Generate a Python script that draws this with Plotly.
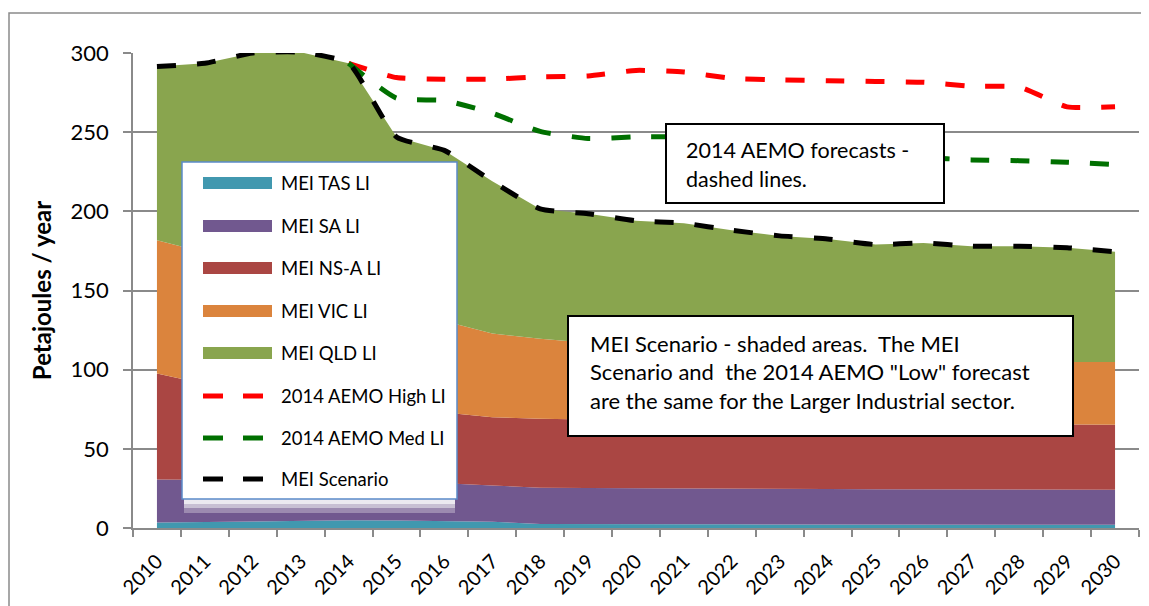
import plotly.graph_objects as go

# ---- data (Petajoules / year) ----
years = [str(y) for y in range(2010, 2031)]

mei_tas_li = [3.4, 3.8, 4.3, 4.7, 4.9, 4.7, 4.4, 3.9, 2.6, 2.4, 2.3,
              2.3, 2.3, 2.2, 2.2, 2.2, 2.1, 2.1, 2.1, 2.0, 2.0]
mei_sa_li = [27.3, 26.7, 26.0, 25.3, 24.7, 24.3, 23.9, 23.0, 22.9, 22.8, 22.7,
             22.6, 22.5, 22.5, 22.4, 22.3, 22.4, 22.3, 22.3, 22.3, 22.2]
mei_nsa_li = [66.9, 60.5, 55.7, 52.0, 48.4, 46.0, 44.7, 43.1, 43.5, 43.3, 43.0,
              42.7, 42.5, 42.3, 42.1, 41.9, 41.6, 41.5, 41.2, 41.1, 41.0]
mei_vic_li = [84.2, 83.0, 79.0, 74.0, 69.0, 63.5, 57.5, 52.8, 50.5, 48.5, 47.0,
              45.4, 44.2, 43.0, 41.8, 40.6, 39.9, 39.6, 39.4, 39.5, 39.6]
mei_qld_li = [109.7, 119.5, 135.0, 144.5, 146.5, 108.5, 108.0, 96.2, 82.0, 81.5, 79.0,
              79.5, 76.5, 74.5, 74.0, 72.0, 74.0, 72.5, 73.0, 72.1, 69.7]

aemo_high_li = [None, None, None, None, 293.5, 284.5, 283.5, 283.5, 285.0, 285.5, 289.0,
                288.0, 284.0, 283.0, 282.5, 282.0, 281.5, 279.0, 278.5, 266.0, 266.0]
aemo_med_li = [None, None, None, None, 293.5, 271.5, 270.0, 262.0, 250.5, 246.0, 247.0,
               247.0, 244.0, 241.0, 238.5, 236.0, 234.0, 232.5, 232.0, 231.0, 229.5]
mei_scenario = [291.5, 293.5, 300.0, 300.5, 293.5, 247.0, 238.5, 219.0, 201.5, 198.5, 194.0,
                192.5, 188.0, 184.5, 182.5, 179.0, 180.0, 178.0, 178.0, 177.0, 174.5]

area_names = ["MEI TAS LI", "MEI SA LI", "MEI NS-A LI", "MEI VIC LI", "MEI QLD LI"]
area_values = [mei_tas_li, mei_sa_li, mei_nsa_li, mei_vic_li, mei_qld_li]
area_colors = ["#4198AF", "#71588F", "#AA4643", "#DB843D", "#89A54E"]

line_names = ["2014 AEMO High LI", "2014 AEMO Med LI", "MEI Scenario"]
line_values = [aemo_high_li, aemo_med_li, mei_scenario]
line_colors = ["#FF0000", "#007000", "#000000"]

FONT = "Lato"

# the page body adds an 8px offset; positions below are given as screen pixels
OFF = 8
W, H = 1149, 606
L, R, T, B = 125, 1131, 45, 520


def px_x(x):
    return (x - OFF - L) / (R - L)


def px_y(y):
    return (B - (y - OFF)) / (B - T)


fig = go.Figure()

for name, vals, col in zip(area_names, area_values, area_colors):
    fig.add_trace(go.Scatter(x=years, y=vals, name=name, stackgroup="mei",
                             mode="lines", line=dict(width=0, color=col),
                             fillcolor=col, showlegend=False))

for name, vals, col in zip(line_names, line_values, line_colors):
    fig.add_trace(go.Scatter(x=years, y=vals, name=name, mode="lines",
                             line=dict(color=col, width=5, dash="19px,21px",
                                       shape="spline", smoothing=0.5),
                             showlegend=False))

shapes = []
annotations = []

# outer chart frame
shapes.append(dict(type="rect", xref="paper", yref="paper", layer="below",
                   x0=px_x(9), x1=px_x(1165), y0=px_y(13), y1=px_y(625),
                   line=dict(color="#8A8A8A", width=1.5)))

# legend box (drawn by hand so the swatches match the original), soft glow underneath
for pad, alpha in [(14, 0.3), (9, 0.45), (5, 0.65)]:
    shapes.append(dict(type="rect", xref="paper", yref="paper",
                       x0=px_x(184), x1=px_x(455),
                       y0=px_y(495), y1=px_y(499 + pad),
                       fillcolor="rgba(255,255,255,%s)" % alpha, line=dict(width=0)))
shapes.append(dict(type="rect", xref="paper", yref="paper",
                   x0=px_x(182), x1=px_x(457), y0=px_y(162), y1=px_y(499),
                   fillcolor="white", line=dict(color="#5B8BC9", width=1.5)))

item_y = [183, 226, 268, 311, 353, 396, 438, 479]
for i, (name, col) in enumerate(zip(area_names, area_colors)):
    yy = item_y[i]
    shapes.append(dict(type="rect", xref="paper", yref="paper",
                       x0=px_x(203), x1=px_x(272), y0=px_y(yy - 6), y1=px_y(yy + 6),
                       fillcolor=col, line=dict(width=0)))
    annotations.append(dict(text=name, x=px_x(279), y=px_y(yy), xref="paper", yref="paper",
                            xanchor="left", yanchor="middle", showarrow=False,
                            font=dict(family=FONT, size=18.5, color="black")))
for j, (name, col) in enumerate(zip(line_names, line_colors)):
    yy = item_y[5 + j]
    for x0, x1 in [(203, 223), (243, 263)]:
        shapes.append(dict(type="line", xref="paper", yref="paper",
                           x0=px_x(x0), x1=px_x(x1), y0=px_y(yy), y1=px_y(yy),
                           line=dict(color=col, width=5)))
    annotations.append(dict(text=name, x=px_x(279), y=px_y(yy), xref="paper", yref="paper",
                            xanchor="left", yanchor="middle", showarrow=False,
                            font=dict(family=FONT, size=18.5, color="black")))

# text boxes
shapes.append(dict(type="rect", xref="paper", yref="paper",
                   x0=px_x(666), x1=px_x(944), y0=px_y(124), y1=px_y(203),
                   fillcolor="white", line=dict(color="black", width=2)))
box1_lines = ["2014 AEMO forecasts -", "dashed lines."]
for k, txt in enumerate(box1_lines):
    annotations.append(dict(text=txt, x=px_x(684), y=px_y(150 + 29 * k), xref="paper", yref="paper",
                            xanchor="left", yanchor="middle", showarrow=False,
                            font=dict(family=FONT, size=21.5, color="black")))

shapes.append(dict(type="rect", xref="paper", yref="paper",
                   x0=px_x(568), x1=px_x(1073), y0=px_y(316), y1=px_y(436),
                   fillcolor="white", line=dict(color="black", width=2)))
box2_lines = ["MEI Scenario - shaded areas.  The MEI",
              "Scenario and  the 2014 AEMO \"Low\" forecast",
              "are the same for the Larger Industrial sector."]
for k, txt in enumerate(box2_lines):
    annotations.append(dict(text=txt, x=px_x(588), y=px_y(343 + 28.5 * k), xref="paper", yref="paper",
                            xanchor="left", yanchor="middle", showarrow=False,
                            font=dict(family=FONT, size=22, color="black")))

fig.update_layout(
    width=W, height=H,
    margin=dict(l=L, r=W - R, t=T, b=H - B, autoexpand=False),
    paper_bgcolor="white", plot_bgcolor="white",
    font=dict(family=FONT, size=19, color="black"),
    showlegend=False,
    shapes=shapes,
    annotations=annotations,
)

fig.update_xaxes(type="category", range=[-0.5, 20.5], tickson="boundaries",
                 ticks="outside", ticklen=7, tickwidth=1.5, tickcolor="#8A8A8A",
                 showline=True, linecolor="#8A8A8A", linewidth=1.5,
                 showgrid=False, tickangle=-45, tickfont=dict(family=FONT, size=20),
                 ticklabelstandoff=12, automargin=False)
fig.update_yaxes(range=[0, 300], dtick=50, ticks="outside", ticklen=8, tickwidth=1.5,
                 tickcolor="#8A8A8A", showline=True, linecolor="#8A8A8A", linewidth=1.5,
                 showgrid=True, gridcolor="#8A8A8A", gridwidth=1.5, zeroline=False,
                 tickfont=dict(family=FONT, size=22), ticklabelstandoff=10,
                 title=dict(text="<b>Petajoules / year</b>", font=dict(family=FONT, size=24),
                            standoff=12),
                 automargin=False)

fig.write_html("out.html")
